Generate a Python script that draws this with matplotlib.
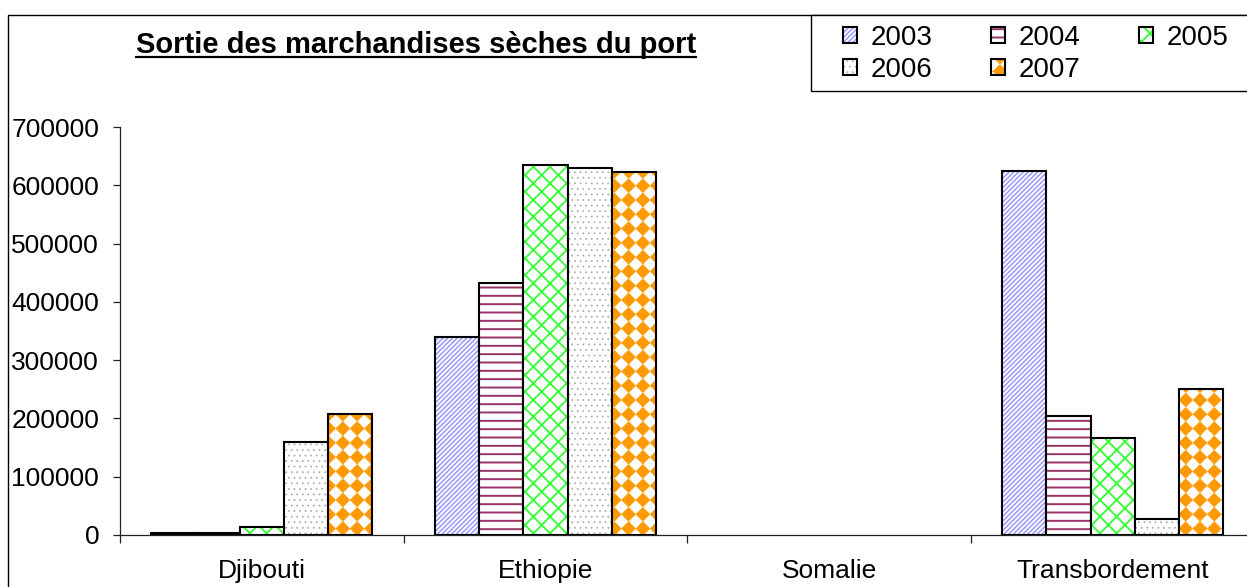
import numpy as np
import matplotlib
matplotlib.use("Agg")
import matplotlib.pyplot as plt
import matplotlib.hatch as mhatch
from matplotlib.path import Path
from matplotlib.patches import Rectangle
from matplotlib.lines import Line2D

# data
regions = ["Djibouti", "Ethiopie", "Somalie", "Transbordement"]
years = ["2003", "2004", "2005", "2006", "2007"]
v2003 = [3000, 340000, 0, 624000]
v2004 = [3000, 433000, 0, 204000]
v2005 = [14000, 634000, 0, 167000]
v2006 = [160000, 630000, 0, 27000]
v2007 = [207000, 623000, 0, 250000]
series = [v2003, v2004, v2005, v2006, v2007]

hatches = ["///////", "--", "xx", "...", "*"]
hcolors = ["#9999ff", "#993366", "#33ff33", "#b0b0b0", "#ff9900"]
hlws = [1.1, 1.4, 1.3, 0.6, 0.2]


# orange diamond pattern of the 2007 series (replaces the star hatch)
class Diamonds(mhatch.HatchPatternBase):
    def __init__(self, hatch, density):
        self.num_rows = hatch.count("*") * 7
        self.num_vertices = (self.num_rows + 1) ** 2 * 5 if self.num_rows else 0

    def set_vertices_and_codes(self, vertices, codes):
        n = self.num_rows
        h = 0.5 / n
        shape = np.array([[0, -h], [h, 0], [0, h], [-h, 0], [0, -h]])
        code = [Path.MOVETO, Path.LINETO, Path.LINETO, Path.LINETO, Path.CLOSEPOLY]
        k = 0
        for r in range(n + 1):
            for c in range(n + 1):
                vertices[k:k + 5] = shape + [c / n, r / n]
                codes[k:k + 5] = code
                k += 5


mhatch._hatch_types = [t for t in mhatch._hatch_types if t is not mhatch.Stars] + [Diamonds]

plt.rcParams["font.family"] = ["Liberation Sans", "DejaVu Sans"]

W, H = 1247, 587
fig = plt.figure(figsize=(W / 100, H / 100), dpi=100)
ax = fig.add_axes([120 / W, 52 / H, 1134.5 / W, 408 / H])

x = np.arange(len(regions))
w = 0.156
handles = []
for i, vals in enumerate(series):
    plt.rcParams["hatch.linewidth"] = hlws[i]
    pos = x + (i - 2) * w
    fill = ax.bar(pos, vals, w, color="white", edgecolor=hcolors[i],
                  hatch=hatches[i], linewidth=0)
    edge = ax.bar(pos, vals, w, color="none", edgecolor="black", linewidth=1.5)
    for b in fill:
        if hasattr(b, "set_hatch_linewidth"):
            b.set_hatch_linewidth(hlws[i])
    for b, v in zip(edge, vals):
        if v == 0:
            b.set_visible(False)
    handles.append((fill[0], edge[0]))

ax.set_xlim(-0.5, 3.5)
ax.set_ylim(0, 700000)
ax.spines[["top", "right"]].set_visible(False)
for s in ["left", "bottom"]:
    ax.spines[s].set_color("#222222")
    ax.spines[s].set_linewidth(0.9)

ax.set_yticks(np.arange(0, 700001, 100000))
ax.set_yticklabels([str(t) for t in range(0, 700001, 100000)])
ax.tick_params(axis="y", length=5, width=0.9, color="#222222", pad=10, labelsize=19)

ax.set_xticks(np.arange(-0.5, 4, 1))
ax.set_xticklabels([])
ax.set_xticks(x, minor=True)
ax.set_xticklabels(regions, minor=True)
ax.tick_params(axis="x", which="major", length=6, width=0.9, color="#222222")
ax.tick_params(axis="x", which="minor", length=0, pad=17, labelsize=19)

# outer chart border
fig.patches.append(Rectangle((8 / W, -0.1), 1.2, 1 - 15 / H + 0.1, transform=fig.transFigure,
                             fill=False, edgecolor="black", linewidth=1))

# legend box, filled row by row like the original
fig.patches.append(Rectangle((811 / W, 1 - 91 / H), 460 / W, 76 / H, transform=fig.transFigure,
                             facecolor="white", edgecolor="black", linewidth=1))
order = [0, 3, 1, 4, 2]
leg = fig.legend([handles[k] for k in order], [years[k] for k in order], ncol=3,
                 loc="upper left", bbox_to_anchor=(843 / W, 1 - 25 / H),
                 frameon=False, fontsize=20, handlelength=0.5, handleheight=0.5,
                 handletextpad=0.5, columnspacing=2.1, borderpad=0, borderaxespad=0,
                 labelspacing=0.2)
for p in leg.findobj(Rectangle):
    h = p.get_hatch()
    if h in hatches and hasattr(p, "set_hatch_linewidth"):
        p.set_hatch_linewidth(hlws[hatches.index(h)])

title = fig.text(416 / W, 1 - 53 / H, "Sortie des marchandises sèches du port",
                 ha="center", va="baseline", fontsize=21, fontweight="bold")
fig.canvas.draw()
bb = title.get_window_extent()
uy = H - 57
fig.lines.append(Line2D([bb.x0 / W, bb.x1 / W], [uy / H, uy / H], transform=fig.transFigure,
                        color="black", linewidth=1.6))

fig.savefig("out.png", dpi=100)
